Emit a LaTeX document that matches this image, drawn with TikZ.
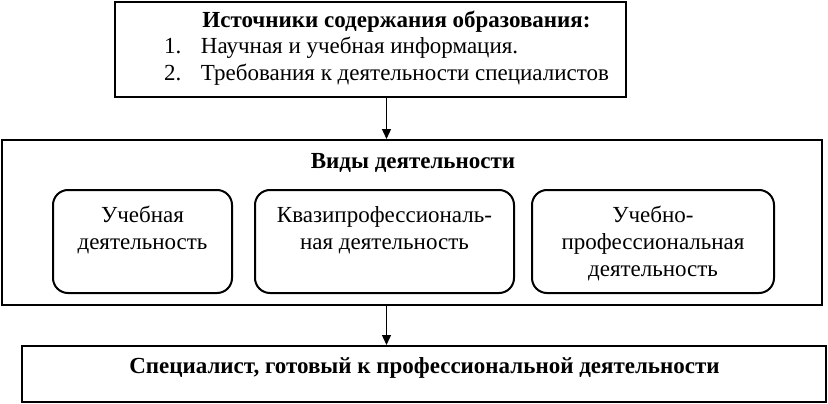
\documentclass[tikz,border=0pt]{standalone}
\usepackage{fontspec}
\setmainfont{Liberation Serif}
\usetikzlibrary{arrows.meta}
\begin{document}
\begin{tikzpicture}[x=1pt,y=-1pt, line width=2pt,
  box/.style={draw, rectangle, inner sep=0pt},
  rbox/.style={draw, rectangle, rounded corners=15pt, inner sep=0pt},
  txt/.style={font=\fontsize{23}{27}\selectfont, inner sep=0pt, align=center},
  btxt/.style={font=\fontsize{23}{27}\selectfont\bfseries, inner sep=0pt, align=center},
  arr/.style={-{Triangle[length=10pt,width=9pt]}, line width=1.3pt}]
\useasboundingbox (0,0) rectangle (828,404);
% boxes
\node[box, minimum width=511pt, minimum height=95pt] (src) at (370.5,49.5) {};
\node[box, minimum width=820pt, minimum height=165pt] (kinds) at (412,222.5) {};
\node[rbox, minimum width=179pt, minimum height=103pt] (b1) at (142.5,241.5) {};
\node[rbox, minimum width=259pt, minimum height=103pt] (b2) at (384.5,241.5) {};
\node[rbox, minimum width=242pt, minimum height=103pt] (b3) at (653,241.5) {};
\node[box, minimum width=804pt, minimum height=56pt] (res) at (424,374) {};
% texts
\node[btxt] (srct) at (396.5,22) {Источники содержания образования:};
\node[txt, anchor=west, align=left] (l1) at (163,48) {\makebox[37pt][l]{1.}Научная и учебная информация.};
\node[txt, anchor=west, align=left] (l2) at (163,75) {\makebox[37pt][l]{2.}Требования к деятельности специалистов};
\node[btxt] (kt) at (413,163) {Виды деятельности};
\node[txt] (t1) at (142.5,230) {Учебная\\деятельность};
\node[txt] (t2) at (384.5,230) {Квазипрофессиональ-\\ная деятельность};
\node[txt] (t3) at (653,243) {Учебно-\\профессиональная\\деятельность};
\node[btxt] (rt) at (424.5,368) {Специалист, готовый к профессиональной деятельности};
% arrows
\coordinate (ax) at (386.5,0);
\draw[arr] (src.south -| ax) -- (kinds.north -| ax);
\draw[arr] (kinds.south -| ax) -- (res.north -| ax);
\end{tikzpicture}
\end{document}
